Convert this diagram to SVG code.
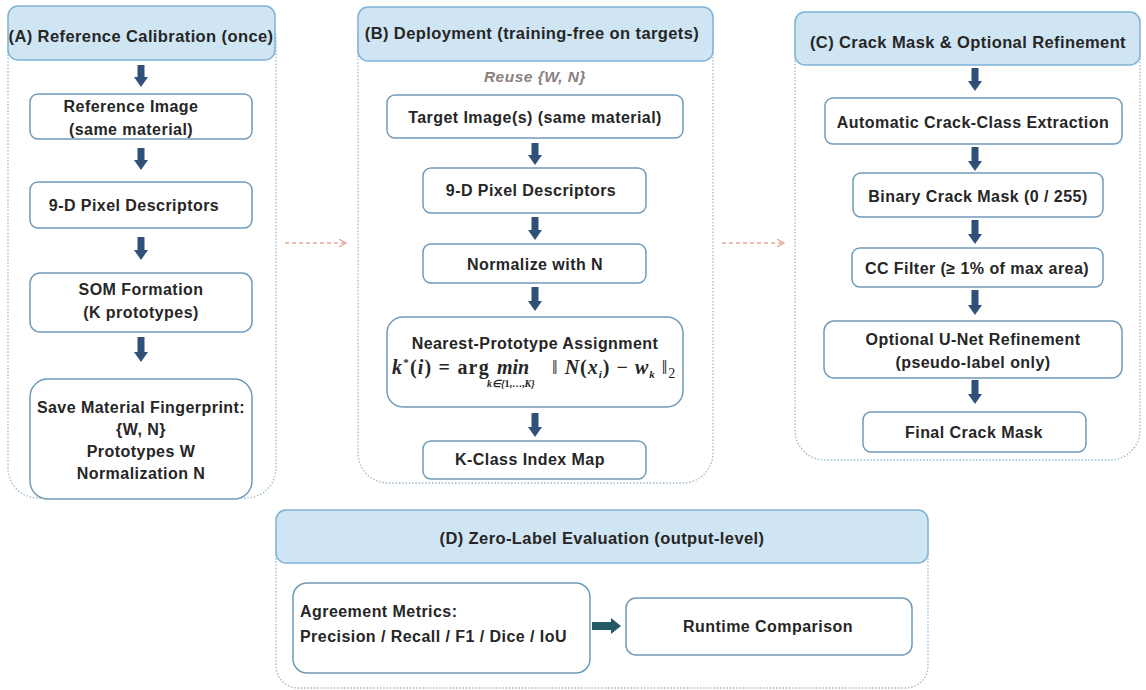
<svg xmlns="http://www.w3.org/2000/svg" width="1146" height="690" viewBox="0 0 1146 690">
<style>
text{font-family:"Liberation Sans",Arial,sans-serif;font-weight:bold;fill:#262626;text-anchor:middle;}
.t{font-size:16px;letter-spacing:0.45px;}
.h{font-size:16.5px;letter-spacing:0.4px;}
.hdr{fill:#cfe5f4;stroke:#7fb2d6;stroke-width:1.5;}
.cont{fill:#ffffff;stroke:#9ab8cc;stroke-width:1.3;stroke-dasharray:1.5 1.8;}
.box{fill:#ffffff;stroke:#6f9bb8;stroke-width:1.5;}
.arr{stroke:#2f5179;stroke-width:7;fill:none;}
.dash{stroke:#e3aa9c;stroke-width:1.3;stroke-dasharray:4 3;fill:none;}
.math{font-family:"Liberation Serif","Times New Roman",serif;font-weight:bold;font-style:italic;text-anchor:start;}
.up{font-style:normal;}
</style>
<defs>
<marker id="ah" markerUnits="userSpaceOnUse" markerWidth="18" markerHeight="14" refX="1" refY="7" orient="auto">
<path d="M0,0 L10,7 L0,14 Z" fill="#2f5179"/>
</marker>
<marker id="ahT" markerUnits="userSpaceOnUse" markerWidth="18" markerHeight="16" refX="1" refY="8" orient="auto">
<path d="M0,0 L10,8 L0,16 Z" fill="#245a67"/>
</marker>
<marker id="ahD" markerUnits="userSpaceOnUse" markerWidth="10" markerHeight="10" refX="7" refY="4" orient="auto">
<path d="M0,0 L7,4 L0,8" fill="none" stroke="#e3aa9c" stroke-width="1.3"/>
</marker>
</defs>
<rect width="1146" height="690" fill="#ffffff"/>

<!-- Containers -->
<g id="panelA">
<rect class="cont" x="8" y="8" width="268" height="490" rx="30"/>
<rect class="hdr" x="8" y="6" width="267" height="54" rx="10"/>
<text class="h" x="141" y="42">(A) Reference Calibration (once)</text>
</g>
<g id="panelB">
<rect class="cont" x="358" y="9" width="355" height="474" rx="30"/>
<rect class="hdr" x="358" y="7" width="355" height="54" rx="10"/>
<text class="h" x="532" y="39">(B) Deployment (training-free on targets)</text>
<text x="535" y="82" style="font-size:15.5px;letter-spacing:0.5px;font-style:italic;fill:#8a8080;">Reuse {W, N}</text>
</g>
<g id="panelC">
<rect class="cont" x="795" y="14" width="345" height="446" rx="30"/>
<rect class="hdr" x="795" y="12" width="345" height="53" rx="10"/>
<text class="h" x="968" y="48">(C) Crack Mask &amp; Optional Refinement</text>
</g>
<g id="panelD">
<rect class="cont" x="276" y="512" width="652" height="176" rx="22"/>
<rect class="hdr" x="276" y="510" width="652" height="53" rx="10"/>
<text class="h" x="602" y="544">(D) Zero-Label Evaluation (output-level)</text>
</g>

<!-- Nodes A -->
<g id="refImage">
<rect class="box" x="30" y="94" width="222" height="45" rx="8"/>
<text class="t" x="131" y="112">Reference Image</text>
<text class="t" x="131" y="135">(same material)</text>
</g>
<g id="descA">
<rect class="box" x="30" y="182" width="222" height="46" rx="8"/>
<text class="t" x="134" y="211">9-D Pixel Descriptors</text>
</g>
<g id="som">
<rect class="box" x="30" y="273" width="222" height="59" rx="10"/>
<text class="t" x="141" y="295">SOM Formation</text>
<text class="t" x="141" y="318">(K prototypes)</text>
</g>
<g id="save">
<rect class="box" x="30" y="379" width="222" height="120" rx="18"/>
<text class="t" x="141" y="413">Save Material Fingerprint:</text>
<text class="t" x="141" y="435">{W, N}</text>
<text class="t" x="141" y="457">Prototypes W</text>
<text class="t" x="141" y="479">Normalization N</text>
</g>

<!-- Nodes B -->
<g id="target">
<rect class="box" x="387" y="95" width="296" height="43" rx="8"/>
<text class="t" x="535" y="123">Target Image(s) (same material)</text>
</g>
<g id="descB">
<rect class="box" x="423" y="168" width="223" height="45" rx="8"/>
<text class="t" x="531" y="196">9-D Pixel Descriptors</text>
</g>
<g id="normalize">
<rect class="box" x="423" y="244" width="223" height="39" rx="8"/>
<text class="t" x="535" y="270">Normalize with N</text>
</g>
<g id="nearest">
<rect class="box" x="387" y="317" width="296" height="90" rx="16"/>
<text class="t" x="535" y="349">Nearest-Prototype Assignment</text>
<text class="math" x="392" y="374" style="font-size:20px;letter-spacing:1.2px;">k<tspan class="up" font-size="11" dy="-8">*</tspan><tspan class="up" dy="8">(</tspan>i<tspan class="up">) = arg</tspan></text>
<text class="math" x="497" y="374" style="font-size:20px;">min</text>
<text class="math" x="487" y="387" style="font-size:10px;">k∈{<tspan class="up">1,…,</tspan>K}</text>
<text class="math" x="552" y="374" style="font-size:20px;letter-spacing:1px;"><tspan class="up" font-weight="normal">‖ </tspan>N<tspan class="up">(</tspan>x<tspan font-size="11" dy="4">i</tspan><tspan class="up" dy="-4">) − </tspan>w<tspan font-size="11" dy="4">k</tspan><tspan class="up" dy="-4" font-weight="normal"> ‖</tspan><tspan class="up" font-weight="normal" font-size="14" dy="4">2</tspan></text>
</g>
<g id="kmap">
<rect class="box" x="423" y="441" width="223" height="38" rx="8"/>
<text class="t" x="530" y="465">K-Class Index Map</text>
</g>

<!-- Nodes C -->
<g id="extract">
<rect class="box" x="825" y="98" width="297" height="46" rx="8"/>
<text class="t" x="973" y="128">Automatic Crack-Class Extraction</text>
</g>
<g id="binary">
<rect class="box" x="853" y="173" width="250" height="44" rx="8"/>
<text class="t" x="978" y="202">Binary Crack Mask (0 / 255)</text>
</g>
<g id="ccfilter">
<rect class="box" x="852" y="248" width="251" height="39" rx="8"/>
<text class="t" x="977" y="274">CC Filter (≥ 1% of max area)</text>
</g>
<g id="unet">
<rect class="box" x="824" y="321" width="298" height="57" rx="10"/>
<text class="t" x="973" y="345">Optional U-Net Refinement</text>
<text class="t" x="973" y="368">(pseudo-label only)</text>
</g>
<g id="final">
<rect class="box" x="863" y="412" width="223" height="40" rx="8"/>
<text class="t" x="974" y="438">Final Crack Mask</text>
</g>

<!-- Nodes D -->
<g id="agreement">
<rect class="box" x="293" y="583" width="297" height="90" rx="14"/>
<text class="t" x="300" y="617" style="text-anchor:start;">Agreement Metrics:</text>
<text class="t" x="300" y="642" style="text-anchor:start;">Precision / Recall / F1 / Dice / IoU</text>
</g>
<g id="runtime">
<rect class="box" x="626" y="598" width="286" height="57" rx="10"/>
<text class="t" x="768" y="632">Runtime Comparison</text>
</g>

<!-- Connectors -->
<g id="connectors">
<line class="arr" x1="141" y1="65" x2="141" y2="78" marker-end="url(#ah)"/>
<line class="arr" x1="141" y1="148" x2="141" y2="161" marker-end="url(#ah)"/>
<line class="arr" x1="141" y1="237" x2="141" y2="251" marker-end="url(#ah)"/>
<line class="arr" x1="141" y1="337" x2="141" y2="353" marker-end="url(#ah)"/>

<line class="arr" x1="535" y1="143" x2="535" y2="156" marker-end="url(#ah)"/>
<line class="arr" x1="535" y1="217" x2="535" y2="231" marker-end="url(#ah)"/>
<line class="arr" x1="535" y1="287" x2="535" y2="302" marker-end="url(#ah)"/>
<line class="arr" x1="535" y1="413" x2="535" y2="428" marker-end="url(#ah)"/>

<line class="arr" x1="975" y1="68" x2="975" y2="82" marker-end="url(#ah)"/>
<line class="arr" x1="975" y1="147" x2="975" y2="162" marker-end="url(#ah)"/>
<line class="arr" x1="975" y1="220" x2="975" y2="235" marker-end="url(#ah)"/>
<line class="arr" x1="975" y1="290" x2="975" y2="306" marker-end="url(#ah)"/>
<line class="arr" x1="975" y1="380" x2="975" y2="395" marker-end="url(#ah)"/>

<line x1="592" y1="626" x2="612" y2="626" stroke="#245a67" stroke-width="8" marker-end="url(#ahT)"/>

<line class="dash" x1="285" y1="243" x2="346" y2="243" marker-end="url(#ahD)"/>
<line class="dash" x1="722" y1="243" x2="784" y2="243" marker-end="url(#ahD)"/>
</g>
</svg>
